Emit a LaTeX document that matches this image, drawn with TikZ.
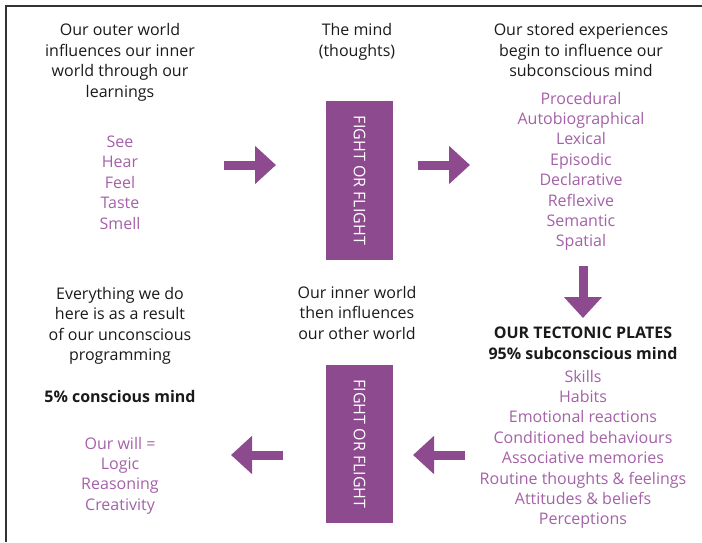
\documentclass[tikz,border=0pt]{standalone}
\usepackage{fontspec}
\setmainfont{Open Sans}
\usetikzlibrary{arrows.meta}
\definecolor{boxpurple}{HTML}{8E4A8F}
\definecolor{listpurple}{HTML}{A461A8}
\definecolor{ink}{HTML}{1A1A1A}
\definecolor{framegray}{HTML}{333333}
\begin{document}
\begin{tikzpicture}[x=1pt,y=-1pt,
  head/.style={font=\fontsize{16}{20.5}\selectfont, text=ink, anchor=base, inner sep=0pt},
  headbold/.style={font=\fontsize{16}{20.5}\selectfont\bfseries, text=ink, anchor=base, inner sep=0pt},
  item/.style={font=\fontsize{16}{20.5}\selectfont, text=listpurple, anchor=base, inner sep=0pt},
  ffbox/.style={fill=boxpurple, text=white, minimum width=159pt, minimum height=67pt, inner sep=0pt, rotate=-90, font=\fontsize{16}{20}\selectfont},
  blockarrow/.style={draw=boxpurple, line width=9pt, -{Triangle[length=21pt,width=37pt]}},
]
\useasboundingbox (0,0) rectangle (702,542);
% frame
\draw[framegray, line width=1.7pt] (6,542) -- (6,6) -- (702,6);

% top-left
\foreach \t [count=\i from 0] in {Our outer world,influences our inner,world through our,learnings}
  \node[head] (tl\i) at (120,{35.5+20.5*\i}) {\t};
\foreach \t [count=\i from 0] in {See,Hear,Feel,Taste,Smell}
  \node[item] (sense\i) at (120,{147+20.5*\i}) {\t};

% top-middle
\foreach \t [count=\i from 0] in {The mind,(thoughts)}
  \node[head] (tm\i) at (357,{35.5+20.5*\i}) {\t};
\node[ffbox] (ff1) at (359.5,180.5) {FIGHT OR FLIGHT};

% top-right
\foreach \t [count=\i from 0] in {Our stored experiences,begin to influence our,subconscious mind}
  \node[head] (tr\i) at (581,{35.5+20.5*\i}) {\t};
\foreach \t [count=\i from 0] in {Procedural,Autobiographical,Lexical,Episodic,Declarative,Reflexive,Semantic,Spatial}
  \node[item] (mem\i) at (581,{104+20.4*\i}) {\t};

% bottom-right
\node[headbold] (br0) at (583,338) {OUR TECTONIC PLATES};
\node[headbold] (br1) at (583,359) {95\% subconscious mind};
\foreach \t [count=\i from 0] in {Skills,Habits,Emotional reactions,Conditioned behaviours,Associative memories,Routine thoughts \& feelings,Attitudes \& beliefs,Perceptions}
  \node[item] (plate\i) at (583,{382+20.4*\i}) {\t};

% bottom-middle
\foreach \t [count=\i from 0] in {Our inner world,then influences,our other world}
  \node[head] (bm\i) at (357,{298+20.5*\i}) {\t};
\node[ffbox, minimum width=158pt] (ff2) at (359.5,444) {FIGHT OR FLIGHT};

% bottom-left
\foreach \t [count=\i from 0] in {Everything we do,here is as a result,of our unconscious,programming}
  \node[head] (bl\i) at (120,{299+20.5*\i}) {\t};
\node[headbold] (conscious) at (120,402) {5\% conscious mind};
\foreach \t [count=\i from 0] in {Our will =,Logic,Reasoning,Creativity}
  \node[item] (will\i) at (120,{449+20.4*\i}) {\t};

% arrows
\coordinate (a1s) at (224,165);  \coordinate (a1e) at (276,165);
\coordinate (a2s) at (418,165);  \coordinate (a2e) at (470,165);
\coordinate (a3s) at (583,266);  \coordinate (a3e) at (583,318);
\coordinate (a4s) at (465,455);  \coordinate (a4e) at (413,455);
\coordinate (a5s) at (283,455);  \coordinate (a5e) at (231,455);
\draw[blockarrow] (a1s) -- (a1e);
\draw[blockarrow] (a2s) -- (a2e);
\draw[blockarrow] (a3s) -- (a3e);
\draw[blockarrow] (a4s) -- (a4e);
\draw[blockarrow] (a5s) -- (a5e);
\end{tikzpicture}
\end{document}
